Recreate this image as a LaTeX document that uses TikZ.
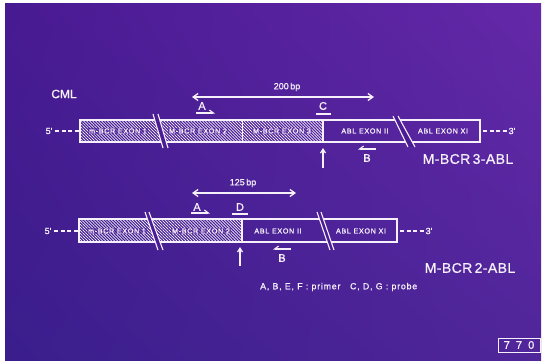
\documentclass[tikz,border=0pt]{standalone}
\usepackage{fontspec}
\setmainfont{Liberation Sans}
\newfontfamily\boxfont[LetterSpace=9,FakeBold=1]{Liberation Sans}
\newfontfamily\bigfont[LetterSpace=3,FakeBold=0.8]{Liberation Sans}
\newfontfamily\medfont[FakeBold=1]{Liberation Sans}
\newfontfamily\legfont[LetterSpace=9,FakeBold=1]{Liberation Sans}
\usetikzlibrary{patterns.meta,arrows.meta,shadings}
\definecolor{bgmid}{RGB}{76,28,150}
\definecolor{bgul}{RGB}{72,26,146}
\definecolor{bgur}{RGB}{100,40,168}
\definecolor{bgll}{RGB}{58,30,140}
\definecolor{bglr}{RGB}{80,38,154}
\definecolor{ink}{RGB}{245,240,250}
\tikzset{
  outline/.style={draw=ink, line width=1.3pt},
  hatch/.style={pattern={Lines[angle=-45,distance=2.1pt,line width=0.7pt]}, pattern color=ink!90},
  exlab/.style={font=\boxfont\fontsize{7.2}{8}\selectfont, text=ink, fill=bgmid, fill opacity=0.55, text opacity=1, inner sep=0.6pt},
  plainlab/.style={font=\boxfont\fontsize{7.2}{8}\selectfont, text=ink, inner sep=0.6pt},
  letter/.style={font=\medfont\fontsize{11}{12}\selectfont, text=ink, inner sep=0.5pt},
  title/.style={font=\bigfont\fontsize{14}{16}\selectfont, text=ink, inner sep=0pt},
  bp/.style={font=\medfont\fontsize{9}{10}\selectfont, text=ink, inner sep=0.5pt},
  dim/.style={draw=ink, line width=1.3pt, {Straight Barb[length=5pt,width=7pt]}-{Straight Barb[length=5pt,width=7pt]}},
  primerR/.style={draw=ink, line width=1.1pt, -{Straight Barb[left,length=4pt,width=6pt]}},
  primerL/.style={draw=ink, line width=1.1pt, -{Straight Barb[right,length=4pt,width=6pt]}},
  underl/.style={draw=ink, line width=1.1pt},
  uparrow/.style={draw=ink, line width=1.2pt, -{Straight Barb[length=4pt,width=5pt]}},
  endlab/.style={font=\medfont\fontsize{9}{10}\selectfont, text=ink, inner sep=0.5pt},
  enddash/.style={draw=ink, line width=1.3pt, dash pattern=on 4pt off 2.5pt},
  brk/.style={fill=bgmid, draw=none},
  brkline/.style={draw=ink, line width=1.1pt}
}
\begin{document}
\begin{tikzpicture}[x=1pt,y=-1pt]
\useasboundingbox (0,0) rectangle (542,361);
\fill[white] (0,0) rectangle (542,361);
\shade[upper left=bgul, upper right=bgur, lower left=bgll, lower right=bglr] (5,4) rectangle (541,361);

% ---------------- Row 1 : M-BCR3-ABL ----------------
\node[font=\medfont\fontsize{12}{13}\selectfont, text=ink] (cml) at (64,94) {CML};
\path[hatch] (80,120) rectangle (323,142);
\draw[outline] (80,120) rectangle (480,142);
\draw[outline] (323,120) -- (323,142);
\draw[draw=ink, line width=0.6pt] (242,120) -- (242,142);
% breaks
\fill[brk] (153,114) -- (158,114) -- (168,148) -- (163,148) -- cycle;
\draw[brkline] (153,114) -- (163,148) (158,114) -- (168,148);
\fill[brk] (393,116) -- (398,116) -- (415,147) -- (408,147) -- cycle;
\draw[brkline] (393,116) -- (408,147) (398,116) -- (415,147);
% exon labels
\node[exlab] (r1e1) at (118,131) {m-BCR EXON 1};
\node[exlab] (r1e2) at (198,131) {M-BCR EXON 2};
\node[exlab] (r1e3) at (282,131) {M-BCR EXON 3};
\node[plainlab] (r1a2) at (365,131) {ABL EXON II};
\node[plainlab] (r1a11) at (443,131) {ABL EXON XI};
% ends
\node[endlab] (r1five) at (49,131) {5'};
\coordinate (r1left) at (80,131);
\draw[enddash] (r1five.east) ++(2,0) coordinate (r1d) -- (r1left);
\coordinate (r1right) at (480,131);
\node[endlab] (r1three) at (512,131) {3'};
\draw[enddash] (r1right) ++(3,0) coordinate (r1r) -- (r1three.west);
% 200 bp
\coordinate (d1a) at (192,97);
\coordinate (d1b) at (374,97);
\draw[dim] (d1a) -- (d1b);
\node[bp] (bp200) at (287,87) {200\,bp};
% primers / probe
\node[letter] (A1) at (202,106) {A};
\coordinate (A1s) at (196,113);
\coordinate (A1e) at (215,113);
\draw[primerR] (A1s) -- (A1e);
\node[letter] (C1) at (323,106) {C};
\coordinate (C1s) at (316,114);
\coordinate (C1e) at (331,114);
\draw[underl] (C1s) -- (C1e);
\node[letter] (B1) at (367,158) {B};
\coordinate (B1s) at (376,149);
\coordinate (B1e) at (358,149);
\draw[primerL] (B1s) -- (B1e);
\coordinate (up1s) at (323,168);
\coordinate (up1e) at (323,148);
\draw[uparrow] (up1s) -- (up1e);
\node[title] (t1) at (468,159) {M-BCR\,3-ABL};

% ---------------- Row 2 : M-BCR2-ABL ----------------
\path[hatch] (79,219) rectangle (242,242);
\draw[outline] (79,219) rectangle (397,242);
\draw[outline] (242,219) -- (242,242);
\fill[brk] (145,212) -- (149,212) -- (163,250) -- (158,250) -- cycle;
\draw[brkline] (145,212) -- (158,250) (149,212) -- (163,250);
\fill[brk] (317,212) -- (321,212) -- (334,250) -- (330,250) -- cycle;
\draw[brkline] (317,212) -- (330,250) (321,212) -- (334,250);
\node[exlab] (r2e1) at (117,231) {m-BCR EXON 1};
\node[exlab] (r2e2) at (201,231) {M-BCR EXON 2};
\node[plainlab] (r2a2) at (278,231) {ABL EXON II};
\node[plainlab] (r2a11) at (361,231) {ABL EXON XI};
\node[endlab] (r2five) at (48,231) {5'};
\coordinate (r2left) at (79,231);
\draw[enddash] (r2five.east) ++(2,0) coordinate (r2d) -- (r2left);
\coordinate (r2right) at (397,231);
\node[endlab] (r2three) at (429,231) {3'};
\draw[enddash] (r2right) ++(3,0) coordinate (r2r) -- (r2three.west);
% 125 bp
\coordinate (d2a) at (192,193);
\coordinate (d2b) at (296,193);
\draw[dim] (d2a) -- (d2b);
\node[bp] (bp125) at (243,183) {125\,bp};
\node[letter] (A2) at (197,207) {A};
\coordinate (A2s) at (191,213);
\coordinate (A2e) at (210,213);
\draw[primerR] (A2s) -- (A2e);
\node[letter] (D2) at (240,207) {D};
\coordinate (D2s) at (232,214);
\coordinate (D2e) at (248,214);
\draw[underl] (D2s) -- (D2e);
\node[letter] (B2) at (282,258) {B};
\coordinate (B2s) at (291,249);
\coordinate (B2e) at (273,249);
\draw[primerL] (B2s) -- (B2e);
\coordinate (up2s) at (240,266);
\coordinate (up2e) at (240,247);
\draw[uparrow] (up2s) -- (up2e);
\node[title] (t2) at (470,268) {M-BCR\,2-ABL};

% legend
\node[font=\legfont\fontsize{8.8}{10}\selectfont, text=ink, anchor=west, inner sep=0pt] (legend) at (260,287)
  {A, B, E, F : primer\hspace{1.1em}C, D, G : probe};

% slide number
\node[draw=ink, line width=0.9pt, minimum width=42pt, minimum height=14pt, inner sep=0pt,
  font=\medfont\fontsize{11}{12}\selectfont, text=ink] (num) at (519,345) {7\ \ 7\ \ 0};
\end{tikzpicture}
\end{document}
